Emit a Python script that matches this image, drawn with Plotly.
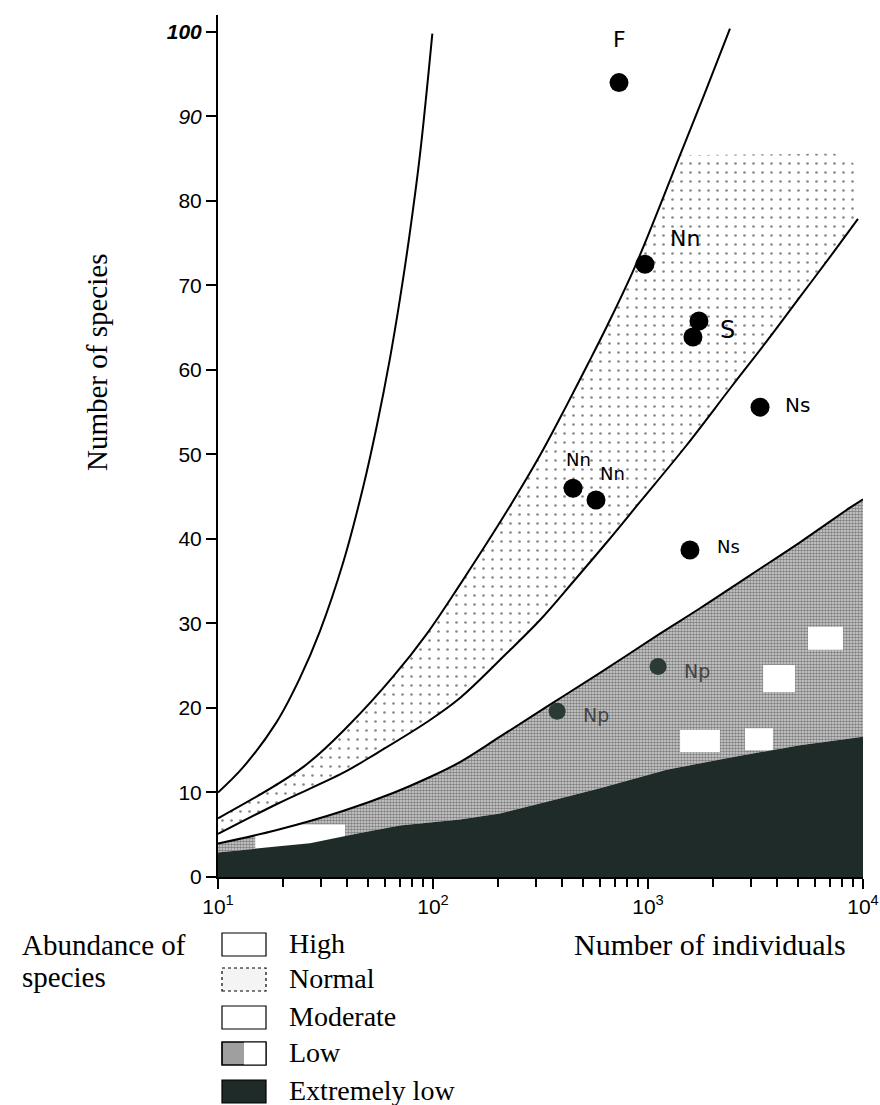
import math
import plotly.graph_objects as go

# ---------------- data ----------------
# boundary of "High" (upper curve)
high_n = [10, 13.1, 18.7, 24.0, 29.8, 38.3, 47.4, 54.7, 63.1, 70.2, 77.6, 87.0, 99.3]
high_s = [10.0, 13.0, 18.3, 23.5, 29.1, 37.3, 46.2, 53.3, 61.4, 68.4, 75.8, 85.5, 99.8]

# upper boundary of "Normal"
normal_up_n = [10, 24.85, 41.1, 65.2, 93.8, 133.5, 220.8, 314.6, 420.1, 520.4, 644.9, 879.6, 1408, 1881, 2406]
normal_up_s = [6.95, 13.0, 18.1, 23.7, 28.8, 34.6, 43.3, 49.9, 55.9, 60.5, 65.2, 72.5, 85.4, 93.4, 100.4]

# lower boundary of "Normal"
normal_lo_n = [10, 18.8, 38.1, 54.9, 93.8, 133.5, 220.8, 314.6, 448, 644.9, 918, 1502, 2459, 3576, 5093, 7253, 9478]
normal_lo_s = [5.09, 8.64, 12.31, 14.67, 18.34, 21.18, 26.5, 30.41, 34.91, 39.64, 44.38, 51.0, 58.1, 63.43, 68.64, 73.85, 77.87]

# top edge of the dotted "Normal" area (right part)
normal_top_n = [1408, 7278, 8426, 9370, 9478]
normal_top_s = [85.4, 85.6, 85.2, 84.0, 82.1]

# upper boundary of "Low"
low_up_n = [10, 18.8, 38.1, 65.2, 96.8, 133.5, 205, 350, 598, 1137, 1746, 2981, 5093, 8700, 10000]
low_up_s = [3.96, 5.56, 7.81, 9.94, 11.83, 13.6, 16.6, 20.4, 24.15, 28.8, 31.8, 35.7, 39.6, 43.7, 44.7]

# upper boundary of "Extremely low"
xlow_up_n = [10, 18.7, 26.8, 45.8, 70.2, 133.6, 205, 419, 598, 1222, 2494, 5093, 10000]
xlow_up_s = [2.9, 3.6, 4.0, 5.2, 6.1, 6.8, 7.5, 9.5, 10.5, 12.7, 14.2, 15.6, 16.6]

# white blank patches inside the "Low" area
patch_n0 = [14.9, 1410, 2825, 3430, 5550]
patch_n1 = [39.0, 2160, 3810, 4830, 8070]
patch_s0 = [2.5, 14.8, 15.0, 21.9, 26.9]
patch_s1 = [6.2, 17.4, 17.6, 25.1, 29.6]

# sampled communities
pt_labels = ["F", "Nn", "S", "", "Ns", "Nn", "Nn", "Ns"]
pt_n = [733, 968, 1726, 1618, 3319, 448, 573, 1567]
pt_s = [94.0, 72.5, 65.8, 63.9, 55.6, 46.0, 44.6, 38.7]
np_labels = ["Np", "Np"]
np_n = [1114, 378]
np_s = [24.9, 19.6]

categories = ["High", "Normal", "Moderate", "Low", "Extremely low"]
y_ticks = list(range(0, 101, 10))
x_ticks = [10, 100, 1000, 10000]
x_ticktext = ["10<sup>1</sup>", "10<sup>2</sup>", "10<sup>3</sup>", "10<sup>4</sup>"]

# ---------------- figure ----------------
W, H = 880, 1105
L, R, T, B = 218, 17, 15, 228
PW, PH = W - L - R, H - T - B

def px2paper(px, py):
    return (px - L) / PW, (H - B - py) / PH

DARK = "#1f2b29"
fig = go.Figure()

# Normal (dotted) area
up_part = [(n, s) for n, s in zip(normal_up_n, normal_up_s) if n < normal_top_n[0]]
norm_x = [p[0] for p in up_part] + normal_top_n + normal_lo_n[::-1]
norm_y = [p[1] for p in up_part] + normal_top_s + normal_lo_s[::-1]
fig.add_trace(go.Scatter(
    x=norm_x, y=norm_y, mode="none", fill="toself", fillcolor="white",
    fillpattern=dict(shape=".", size=9, solidity=0.07, fgcolor="#111111", bgcolor="white"),
    hoverinfo="skip", showlegend=False))

# Low (grey stipple) area
low_x = low_up_n + xlow_up_n[::-1]
low_y = low_up_s + xlow_up_s[::-1]
fig.add_trace(go.Scatter(
    x=low_x, y=low_y, mode="none", fill="toself", fillcolor="#9a9a9a",
    fillpattern=dict(shape=".", size=3, solidity=0.55, fgcolor="#2e2e2e", bgcolor="#d4d4d4"),
    hoverinfo="skip", showlegend=False))

# white patches in Low
for a, b, c, d in zip(patch_n0, patch_n1, patch_s0, patch_s1):
    fig.add_trace(go.Scatter(
        x=[a, b, b, a, a], y=[c, c, d, d, c], mode="none", fill="toself",
        fillcolor="white", hoverinfo="skip", showlegend=False))

# Extremely low (dark) area
fig.add_trace(go.Scatter(
    x=xlow_up_n + [xlow_up_n[-1], xlow_up_n[0]],
    y=xlow_up_s + [0, 0], mode="none", fill="toself", fillcolor=DARK,
    hoverinfo="skip", showlegend=False))

# boundary lines
for xs, ys in [(high_n, high_s), (normal_up_n, normal_up_s),
               (normal_lo_n, normal_lo_s), (low_up_n, low_up_s)]:
    fig.add_trace(go.Scatter(x=xs, y=ys, mode="lines",
                             line=dict(color="black", width=2, shape="spline", smoothing=1.0),
                             hoverinfo="skip", showlegend=False))

# points
fig.add_trace(go.Scatter(x=pt_n, y=pt_s, mode="markers",
                         marker=dict(size=19, color="black"), showlegend=False))
fig.add_trace(go.Scatter(x=np_n, y=np_s, mode="markers",
                         marker=dict(size=17, color="#2c3a36"), showlegend=False))

hand = "DejaVu Sans"
label_offsets = [(0, 43, 22), (40, 26, 22), (29, -9, 24), None, (37, 2, 20), (5, 29, 18), (16, 27, 18), (39, 3, 18)]
for lab, n, s, off in zip(pt_labels, pt_n, pt_s, label_offsets):
    if off is None or not lab:
        continue
    fig.add_annotation(x=math.log10(n), y=s, xref="x", yref="y", text=lab, showarrow=False,
                       xshift=off[0], yshift=off[1], xanchor="center", yanchor="middle",
                       font=dict(family=hand, size=off[2], color="black"))
for lab, n, s in zip(np_labels, np_n, np_s):
    fig.add_annotation(x=math.log10(n), y=s, xref="x", yref="y", text=lab, showarrow=False,
                       xshift=39, yshift=-4, xanchor="center", yanchor="middle",
                       font=dict(family=hand, size=19, color="#444444"))

minor_vals = [m * 10 ** e for e in (1, 2, 3) for m in range(2, 10)]

fig.update_xaxes(type="log", range=[1, 4], tickvals=x_ticks, ticktext=x_ticktext,
                 ticks="outside", ticklen=10, tickwidth=1.5, tickcolor="black",
                 showline=True, linecolor="black", linewidth=2, showgrid=False, zeroline=False,
                 tickfont=dict(family="Liberation Sans", size=21, color="black"),
                 minor=dict(tickvals=minor_vals, ticks="outside", ticklen=8, tickcolor="black",
                            tickwidth=1.5, showgrid=False))
ytext = [str(v) for v in y_ticks]
ytext[-1] = "<b><i>100</i></b>"
ytext[-2] = "<i>90</i>"
fig.update_yaxes(range=[0, 102], tickvals=y_ticks, ticktext=ytext,
                 ticks="outside", ticklen=10, tickwidth=1.5, tickcolor="black",
                 showline=True, linecolor="black", linewidth=2, showgrid=False, zeroline=False,
                 tickfont=dict(family="Liberation Sans", size=21, color="black"))

serif = "Liberation Serif"
def text_px(px, py, text, anchor="center", angle=0, size=28):
    xp, yp = px2paper(px, py)
    fig.add_annotation(x=xp, y=yp, xref="paper", yref="paper", xanchor=anchor, yanchor="middle",
                       text=text, textangle=angle, showarrow=False,
                       font=dict(family=serif, size=size, color="black"))

text_px(97, 362, "Number of species", angle=-90, size=29)
text_px(710, 945, "Number of individuals", size=30)
text_px(20, 945, "Abundance of", anchor="left", size=29)
text_px(20, 977, "species", anchor="left", size=29)

# legend swatches
box_tops = [933, 968, 1006, 1042, 1080]
box_h = 23
fills = ["white", "#f4f4f4", "white", "#9f9f9f", DARK]
for cat, top, fc in zip(categories, box_tops, fills):
    x0, y0 = px2paper(222, top + box_h)
    x1, y1 = px2paper(266, top)
    dash = "dot" if cat == "Normal" else "solid"
    fig.add_shape(type="rect", xref="paper", yref="paper", x0=x0, y0=y0, x1=x1, y1=y1,
                  fillcolor=fc, line=dict(color="black", width=1.2, dash=dash))
    if cat == "Low":
        xm, _ = px2paper(244, top)
        fig.add_shape(type="rect", xref="paper", yref="paper", x0=xm, y0=y0, x1=x1, y1=y1,
                      fillcolor="white", line=dict(width=0))
        fig.add_shape(type="rect", xref="paper", yref="paper", x0=x0, y0=y0, x1=x1, y1=y1,
                      fillcolor="rgba(0,0,0,0)", line=dict(color="black", width=1.2))
    text_px(287, top + box_h / 2 - 1, cat, anchor="left")

fig.update_layout(width=W, height=H, margin=dict(l=L, r=R, t=T, b=B, autoexpand=False),
                  plot_bgcolor="white", paper_bgcolor="white", showlegend=False)

fig.write_html("out.html", config={"displayModeBar": False},
               post_script="document.body.style.margin='0px';document.body.style.overflow='hidden';")
